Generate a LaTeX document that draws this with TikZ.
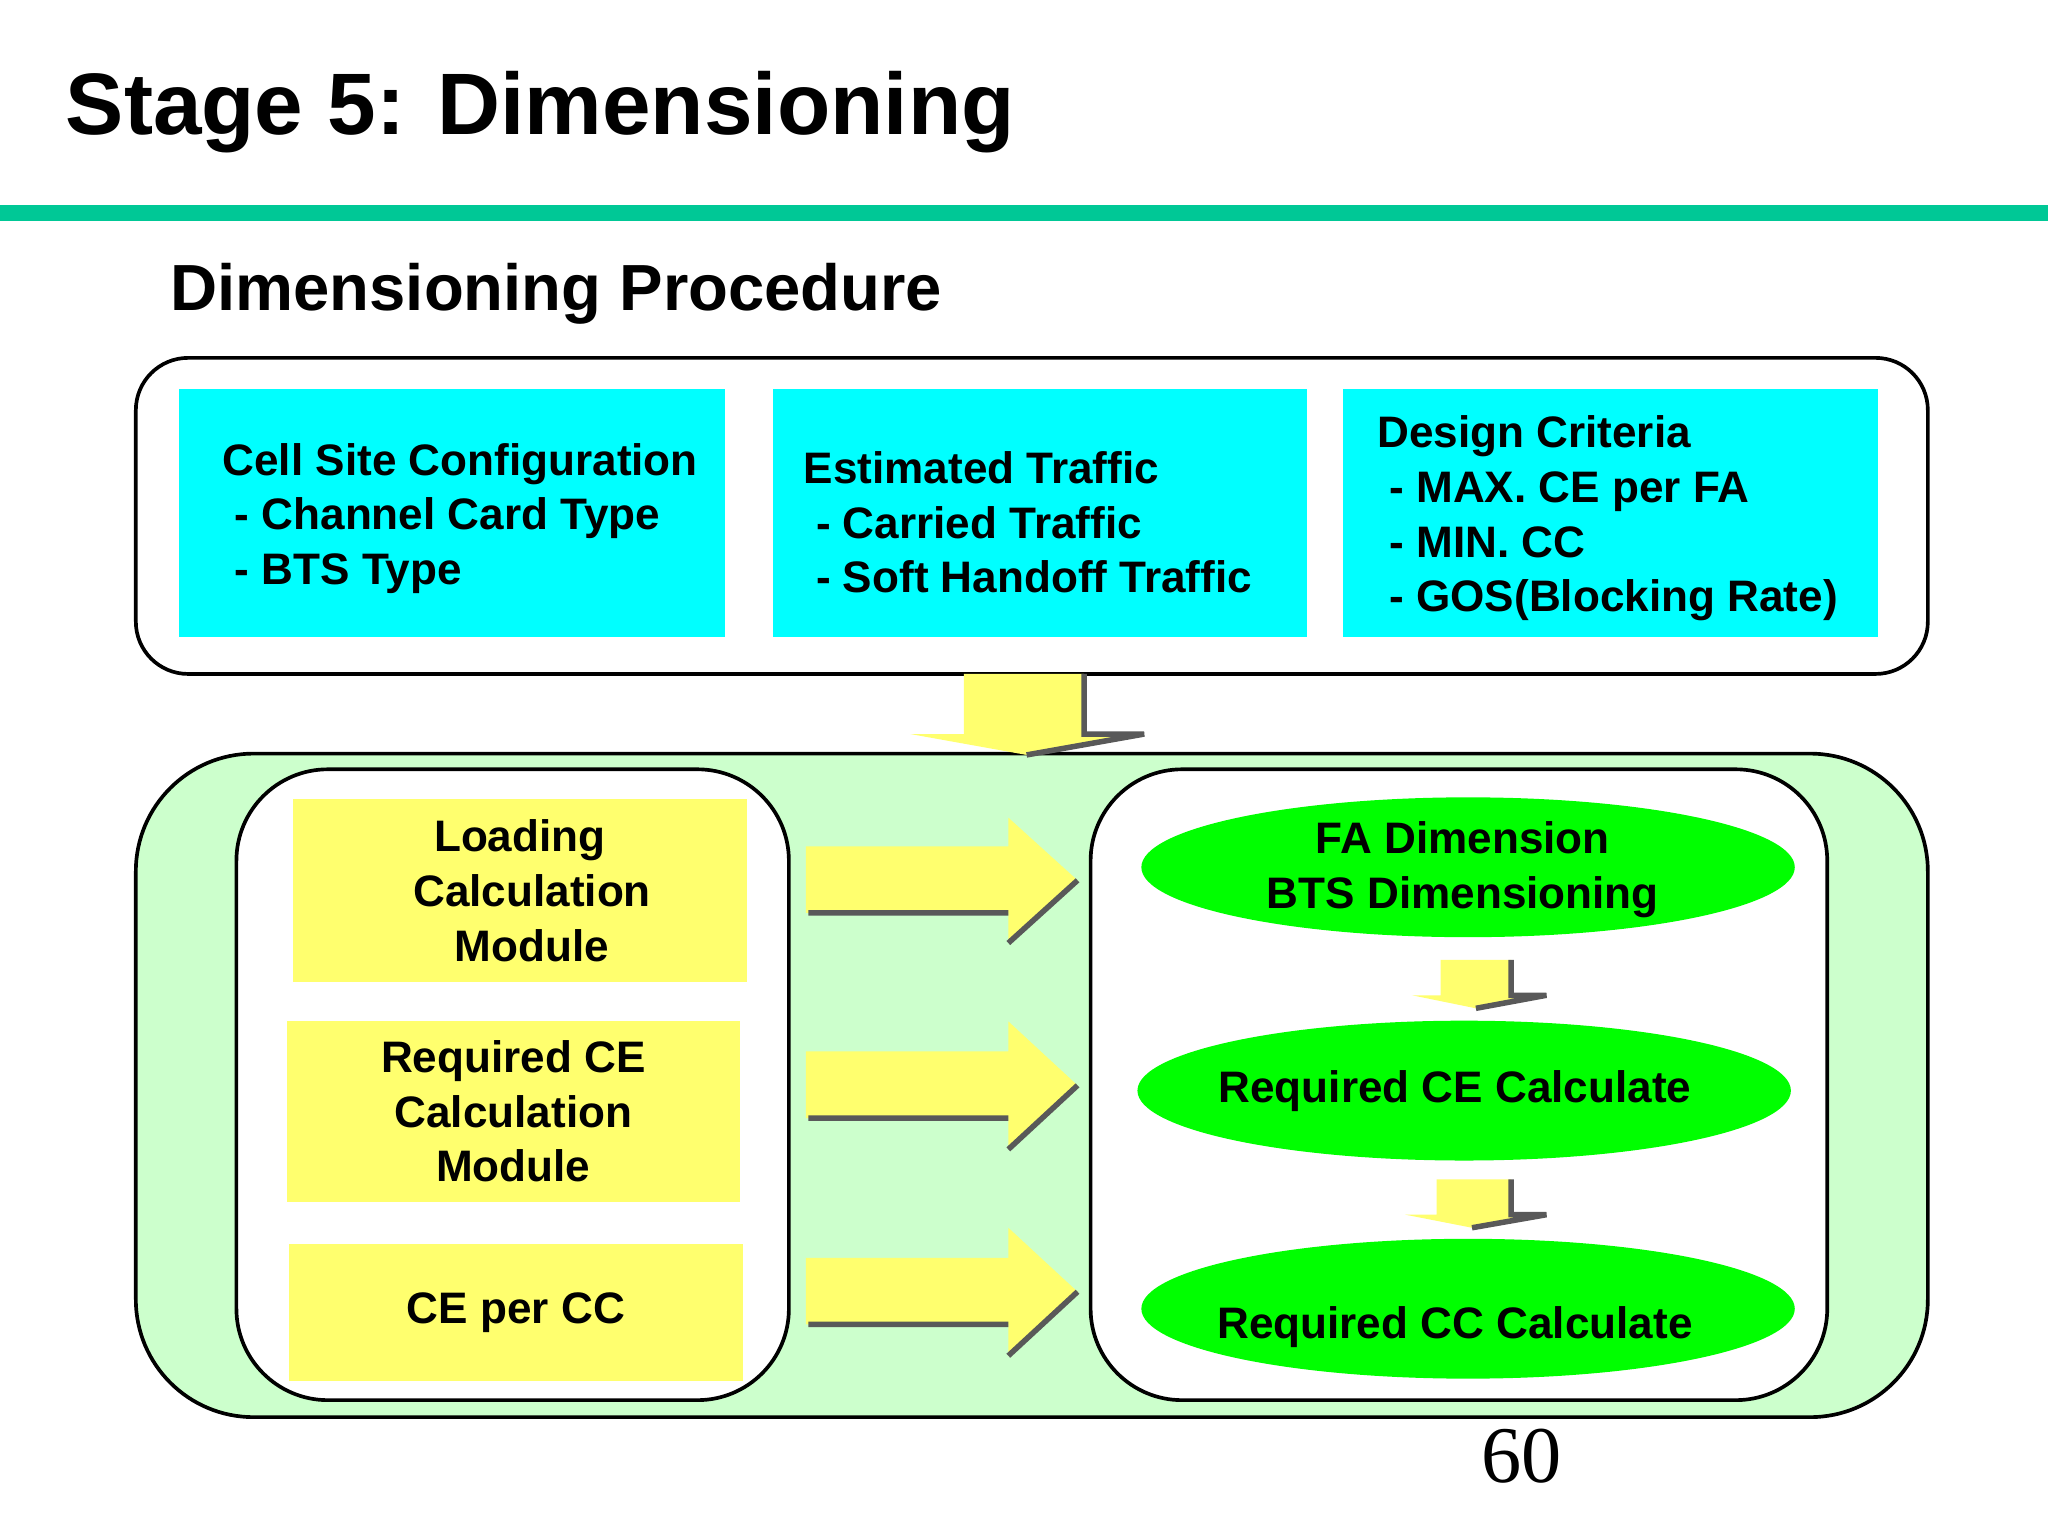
\documentclass[tikz,border=0pt]{standalone}
\usepackage{fontspec}
\usetikzlibrary{shapes.geometric}
\setmainfont{Liberation Sans}
\newfontfamily\timesf{Liberation Serif}
\definecolor{cyn}{RGB}{0,255,255}
\definecolor{yel}{RGB}{255,255,110}
\definecolor{grn}{RGB}{0,255,0}
\definecolor{lgrn}{RGB}{204,255,204}
\definecolor{bar}{RGB}{0,200,150}
\begin{document}
\begin{tikzpicture}[x=0.01cm,y=-0.01cm,
  txt/.style={font=\bfseries\fontsize{9.6}{11.9}\selectfont,align=left},
  cyanbox/.style={fill=cyn,draw=none},
  ybox/.style={fill=yel,draw=none,font=\bfseries\fontsize{9.6}{11.9}\selectfont,align=center,inner sep=0pt},
  gell/.style={ellipse,fill=grn,draw=none,minimum width=5cm,minimum height=1.07cm,inner sep=0pt},
  etxt/.style={font=\bfseries\fontsize{9.6}{11.9}\selectfont,align=center},
  yarrow/.style={fill=yel,draw=none},
  shade/.style={draw=black!65,line width=1.2pt}]
\useasboundingbox (0,0) rectangle (1568,1176);
\fill[white] (0,0) rectangle (1568,1176);
\node[anchor=west,font=\bfseries\fontsize{19}{22}\selectfont] (title) at (38,86) {Stage 5: Dimensioning};
\fill[bar] (0,157) rectangle (1568,169);
\node[anchor=west,font=\bfseries\fontsize{14.2}{17}\selectfont] (sub) at (118,225) {Dimensioning Procedure};
\draw[thick,rounded corners=0.4cm] (104,274) rectangle (1476,516);
\fill[cyanbox] (137,298) rectangle (555,488);
\fill[cyanbox] (592,298) rectangle (1001,488);
\fill[cyanbox] (1028,298) rectangle (1438,488);
\node[txt,anchor=west] (c1) at (158,397) {Cell Site Configuration\\\ - Channel Card Type\\\ - BTS Type};
\node[txt,anchor=west] (c2) at (603,400) {Estimated Traffic\\\ - Carried Traffic\\\ - Soft Handoff Traffic};
\node[txt,anchor=west] (c3) at (1042,397) {Design Criteria\\\ - MAX. CE per FA\\\ - MIN. CC\\\ - GOS(Blocking Rate)};
\draw[thick,fill=lgrn,rounded corners=0.9cm] (104,577) rectangle (1476,1085);
\draw[thick,fill=white,rounded corners=0.7cm] (181,589) rectangle (604,1072);
\draw[thick,fill=white,rounded corners=0.7cm] (835,589) rectangle (1399,1072);
\fill[yarrow] (738,516) -- (830,516) -- (830,562) -- (876,562) -- (786,578) -- (697,562) -- (738,562) -- cycle;
\draw[shade] (830,516) -- (830,562) -- (876,562) -- (786,578);
\node[ybox,minimum width=3.47cm,minimum height=1.40cm] (y1) at (398,682) {Loading\\\ \ Calculation\\\ \ Module};
\node[ybox,minimum width=3.47cm,minimum height=1.38cm] (y2) at (393,851) {Required CE\\Calculation\\Module};
\node[ybox,minimum width=3.47cm,minimum height=1.05cm] (y3) at (395,1005) {CE per CC};
\node[gell] (e1) at (1124,664) {};
\node[etxt] (e1t) at (1120,666) {FA Dimension\\BTS Dimensioning};
\node[gell] (e2) at (1121,835) {};
\node[etxt] (e2t) at (1114,835) {Required CE Calculate};
\node[gell] (e3) at (1124,1002) {};
\node[etxt] (e3t) at (1114,1016) {Required CC Calculate};
\foreach \yc/\h in {674/48, 831/49, 989/49}{
  \fill[yarrow] (617,\yc-26) -- (772,\yc-26) -- (772,\yc-\h) -- (825,\yc) -- (772,\yc+\h) -- (772,\yc+25) -- (617,\yc+25) -- cycle;
  \draw[shade] (619,\yc+25) -- (772,\yc+25) (772,\yc+\h) -- (825,\yc);
}
\fill[yarrow] (1103,735) -- (1157,735) -- (1157,762) -- (1184,762) -- (1130,772) -- (1081,762) -- (1103,762) -- cycle;
\draw[shade] (1157,735) -- (1157,762) -- (1184,762) -- (1130,772);
\fill[yarrow] (1100,903) -- (1157,903) -- (1157,930) -- (1184,930) -- (1127,940) -- (1076,930) -- (1100,930) -- cycle;
\draw[shade] (1157,903) -- (1157,930) -- (1184,930) -- (1127,940);
\node[font=\timesf\fontsize{17.5}{20}\selectfont] (pg) at (1165,1115) {60};
\end{tikzpicture}
\end{document}
